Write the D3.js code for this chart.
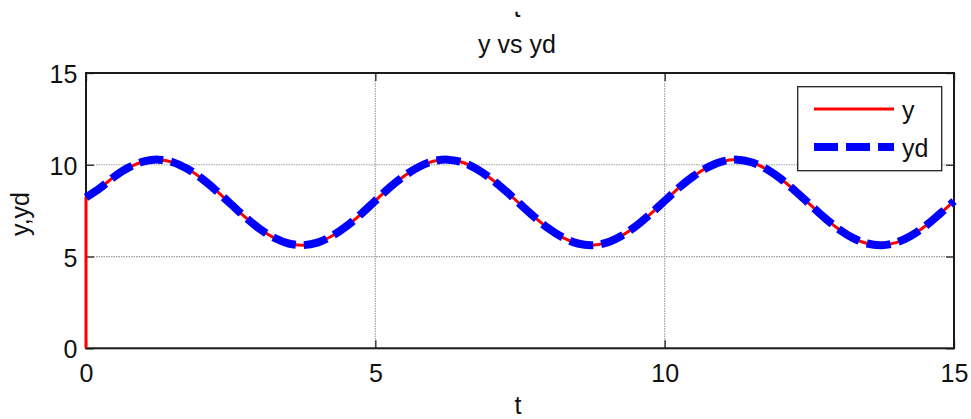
<!DOCTYPE html>
<html>
<head>
<meta charset="utf-8">
<script src="https://cdn.jsdelivr.net/npm/d3@7"></script>
<style>
  html, body { margin: 0; padding: 0; background: #fff; }
  svg { display: block; }
  text { font-family: "Liberation Sans", Arial, Helvetica, sans-serif; fill: #111; }
</style>
</head>
<body>
<svg id="chart" width="971" height="419"></svg>
<script>
// Sample times (s)
const tValues = [
  0, 0.25, 0.5, 0.75, 1, 1.25, 1.5, 1.75, 2, 2.25, 2.5, 2.75, 3, 3.25, 3.5, 3.75, 4, 4.25, 4.5, 4.75,
  5, 5.25, 5.5, 5.75, 6, 6.25, 6.5, 6.75, 7, 7.25, 7.5, 7.75, 8, 8.25, 8.5, 8.75, 9, 9.25, 9.5, 9.75,
  10, 10.25, 10.5, 10.75, 11, 11.25, 11.5, 11.75, 12, 12.25, 12.5, 12.75, 13, 13.25, 13.5, 13.75, 14, 14.25, 14.5, 14.75,
  15
];

// Desired trajectory yd
const ydValues = [
  8.22, 8.75, 9.38, 9.87, 10.18, 10.28, 10.14, 9.78, 9.25, 8.59, 7.87, 7.15, 6.51, 6.02, 5.71, 5.62, 5.76, 6.12, 6.65, 7.31,
  8.04, 8.77, 9.39, 9.88, 10.19, 10.28, 10.14, 9.77, 9.24, 8.58, 7.86, 7.15, 6.51, 6.02, 5.71, 5.62, 5.76, 6.12, 6.65, 7.31,
  8.03, 8.76, 9.38, 9.87, 10.18, 10.28, 10.14, 9.78, 9.25, 8.59, 7.87, 7.15, 6.51, 6.02, 5.71, 5.62, 5.76, 6.12, 6.65, 7.31,
  8.02
];

// System output y: starts at rest, then tracks yd
const yInitial = 0;
const yValues = [
  8.22, 8.75, 9.38, 9.87, 10.18, 10.28, 10.14, 9.78, 9.25, 8.59, 7.87, 7.15, 6.51, 6.02, 5.71, 5.62, 5.76, 6.12, 6.65, 7.31,
  8.04, 8.77, 9.39, 9.88, 10.19, 10.28, 10.14, 9.77, 9.24, 8.58, 7.86, 7.15, 6.51, 6.02, 5.71, 5.62, 5.76, 6.12, 6.65, 7.31,
  8.03, 8.76, 9.38, 9.87, 10.18, 10.28, 10.14, 9.78, 9.25, 8.59, 7.87, 7.15, 6.51, 6.02, 5.71, 5.62, 5.76, 6.12, 6.65, 7.31,
  8.02
];

const xTicks = [0, 5, 10, 15];
const yTicks = [0, 5, 10, 15];
const xTickLabels = ["0", "5", "10", "15"];
const yTickLabels = ["0", "5", "10", "15"];
const seriesNames = ["y", "yd"];

const svg = d3.select("#chart");
const FONT = 25;

const plot = { left: 86, right: 954, top: 73, bottom: 348.3 };
const x = d3.scaleLinear().domain([0, 15]).range([plot.left, plot.right]);
const y = d3.scaleLinear().domain([0, 15]).range([plot.bottom, plot.top]);

// Clipped label left over from the subplot above
svg.append("clipPath").attr("id", "topclip")
  .append("rect").attr("x", 0).attr("y", 11.7).attr("width", 971).attr("height", 30);
svg.append("text")
  .attr("clip-path", "url(#topclip)")
  .attr("x", 517).attr("y", 16.7)
  .attr("text-anchor", "middle")
  .style("font-size", FONT + "px")
  .text("t");

// Grid (dotted)
const grid = svg.append("g").attr("class", "grid");
grid.selectAll("line.gx").data(xTicks).join("line")
  .attr("x1", d => x(d)).attr("x2", d => x(d))
  .attr("y1", plot.top).attr("y2", plot.bottom)
  .attr("stroke", "#a0a0a0").attr("stroke-width", 1.2).attr("stroke-dasharray", "1.5 1");
grid.selectAll("line.gy").data(yTicks).join("line")
  .attr("x1", plot.left).attr("x2", plot.right)
  .attr("y1", d => y(d)).attr("y2", d => y(d))
  .attr("stroke", "#a0a0a0").attr("stroke-width", 1.2).attr("stroke-dasharray", "1.5 1");

// Axes with inward ticks on all four sides
const TICK = 8;
function styleAxis(g) {
  g.select(".domain").remove();
  g.selectAll(".tick line").attr("stroke", "#262626").attr("stroke-width", 1.3);
  g.selectAll(".tick text").style("font-size", FONT + "px").attr("fill", "#111")
    .style("font-family", '"Liberation Sans", Arial, Helvetica, sans-serif');
}
const xAxisBottom = svg.append("g").attr("transform", `translate(0,${plot.bottom})`)
  .call(d3.axisBottom(x).tickValues(xTicks).tickSize(-TICK).tickSizeOuter(0).tickPadding(0)
    .tickFormat((d, i) => xTickLabels[i]))
  .call(styleAxis);
xAxisBottom.selectAll(".tick text").attr("y", 33.4).attr("dy", 0);

svg.append("g").attr("transform", `translate(0,${plot.top})`)
  .call(d3.axisTop(x).tickValues(xTicks).tickSize(-TICK).tickSizeOuter(0).tickFormat(""))
  .call(styleAxis);

const yAxisLeft = svg.append("g").attr("transform", `translate(${plot.left},0)`)
  .call(d3.axisLeft(y).tickValues(yTicks).tickSize(-TICK).tickSizeOuter(0).tickPadding(8.6)
    .tickFormat((d, i) => yTickLabels[i]))
  .call(styleAxis);
yAxisLeft.selectAll(".tick text").attr("dy", "0.38em");

svg.append("g").attr("transform", `translate(${plot.right},0)`)
  .call(d3.axisRight(y).tickValues(yTicks).tickSize(-TICK).tickSizeOuter(0).tickFormat(""))
  .call(styleAxis);

// Axes box
svg.append("rect")
  .attr("x", plot.left).attr("y", plot.top)
  .attr("width", plot.right - plot.left).attr("height", plot.bottom - plot.top)
  .attr("fill", "none").attr("stroke", "#1a1a1a").attr("stroke-width", 2);

// Titles
svg.append("text").attr("x", 517).attr("y", 53).attr("text-anchor", "middle")
  .style("font-size", FONT + "px").text("y vs yd");
svg.append("text").attr("x", 518).attr("y", 414).attr("text-anchor", "middle")
  .style("font-size", FONT + "px").text("t");
svg.append("text").attr("transform", "translate(29,214) rotate(-90)").attr("text-anchor", "middle")
  .style("font-size", FONT + "px").text("y,yd");

// Curves
const line = d3.line().x(d => x(d.t)).y(d => y(d.v)).curve(d3.curveCatmullRom.alpha(0.5));
const ydPts = tValues.map((t, i) => ({ t, v: ydValues[i] }));
const yPts = tValues.map((t, i) => ({ t, v: yValues[i] }));

// y: vertical rise from its initial value at t = 0, then the smooth response
const ySmooth = line(yPts);
const yPath = `M${x(tValues[0])},${y(yInitial)}L` + ySmooth.slice(1);

svg.append("path").attr("d", yPath)
  .attr("fill", "none").attr("stroke", "#ff0000").attr("stroke-width", 3);
svg.append("path").attr("d", line(ydPts))
  .attr("fill", "none").attr("stroke", "#0000ff").attr("stroke-width", 8)
  .attr("stroke-dasharray", "24 8").attr("stroke-linecap", "butt");

// Legend
const lg = svg.append("g");
lg.append("rect").attr("x", 797.7).attr("y", 86.7).attr("width", 144).attr("height", 84)
  .attr("fill", "#fff").attr("stroke", "#222").attr("stroke-width", 1.3);
const legendStyles = [
  { color: "#ff0000", width: 3, dash: null, ly: 109 },
  { color: "#0000ff", width: 8, dash: "24 8", ly: 147 }
];
legendStyles.forEach((s, i) => {
  lg.append("line").attr("x1", 814).attr("x2", 894).attr("y1", s.ly).attr("y2", s.ly)
    .attr("stroke", s.color).attr("stroke-width", s.width)
    .attr("stroke-dasharray", s.dash);
  lg.append("text").attr("x", 902).attr("y", s.ly + 9.5)
    .style("font-size", FONT + "px").text(seriesNames[i]);
});
</script>
</body>
</html>
